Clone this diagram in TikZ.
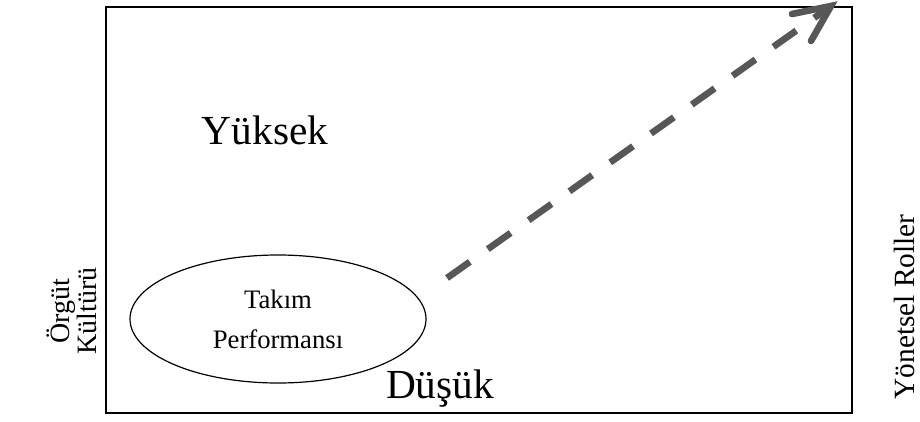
\documentclass[tikz,border=0pt]{standalone}
\usepackage{fontspec}
\setmainfont{Liberation Serif}
\usetikzlibrary{shapes.geometric}
\tikzset{
  frame/.style={draw, line width=1pt},
  perf/.style={ellipse, draw, line width=0.9pt, inner sep=0pt,
    minimum width=222pt, minimum height=96pt, align=center,
    font=\fontsize{20}{30}\selectfont},
  level/.style={font=\fontsize{31}{36}\selectfont, inner sep=0pt},
  axis/.style={rotate=90, align=center, inner sep=0pt},
  trend/.style={draw=black!66, line width=5pt, dash pattern=on 21pt off 16.5pt},
  barb/.style={draw=black!66, line width=5pt, line cap=round}
}
\begin{document}
\begin{tikzpicture}[x=0.75pt, y=-0.75pt]
  \useasboundingbox (0,0) rectangle (920,421);
  % outer frame
  \draw[frame] (106,7) rectangle (852,413);
  % levels
  \node[level] (high) at (265,130) {Yüksek};
  \node[level] (low) at (440,389) {Düşük};
  % team performance
  \node[perf] (team) at (278,319) {Takım\\Performansı};
  % axis labels
  \node[axis, font=\fontsize{21}{18}\selectfont] (culture) at (72,311) {Örgüt\\Kültürü};
  \node[axis, font=\fontsize{22}{26}\selectfont] (roles) at (904,307) {Yönetsel Roller};
  % rising trend arrow
  \coordinate (start) at (447,278);
  \coordinate (tip) at (831,6);
  \coordinate (armA) at (792,14);
  \coordinate (armB) at (811,41);
  \draw[trend] (start) -- (tip);
  \draw[barb] (armA) -- (tip) -- (armB);
\end{tikzpicture}
\end{document}
